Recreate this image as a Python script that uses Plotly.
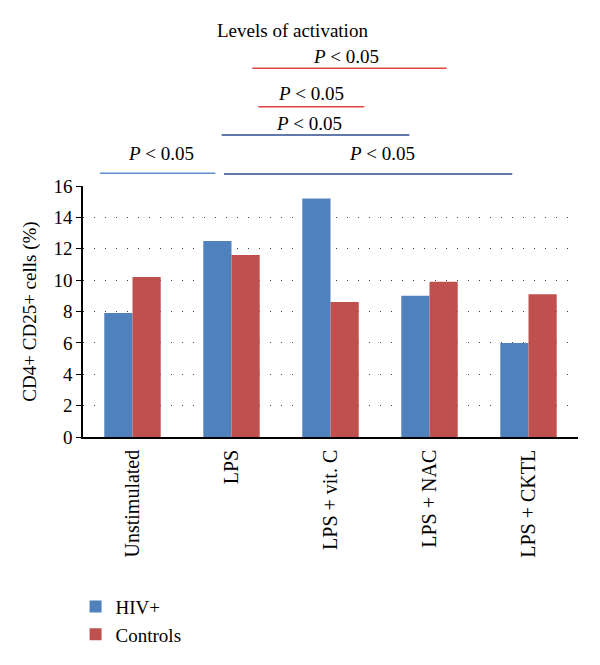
import plotly.graph_objects as go

categories = ["Unstimulated", "LPS", "LPS + vit. C", "LPS + NAC", "LPS + CKTL"]
hiv_values = [7.9, 12.5, 15.2, 9.0, 6.0]
control_values = [10.2, 11.6, 8.6, 9.9, 9.1]
y_ticks = [0, 2, 4, 6, 8, 10, 12, 14, 16]

# significance brackets: (x0, x1 in category units, y in paper, colour, label x, label y)
brackets = [
    (1.21, 3.174, 1.469, "#E0453F", 2.155, 1.515),
    (1.271, 2.341, 1.316, "#E0453F", 1.80, 1.369),
    (0.901, 2.796, 1.203, "#2E4E8C", 1.783, 1.25),
    (-0.328, 0.836, 1.051, "#5B8FD0", 0.286, 1.13),
    (0.924, 3.836, 1.048, "#2E4E8C", 2.517, 1.13),
]
p_label = "<i>P</i> &lt; 0.05"

FONT = "Liberation Serif, Times New Roman, serif"

fig = go.Figure()
fig.add_trace(go.Bar(x=list(range(len(categories))), y=hiv_values, name="HIV+",
                     marker=dict(color="#4F81BD", line=dict(width=0))))
fig.add_trace(go.Bar(x=list(range(len(categories))), y=control_values, name="Controls",
                     marker=dict(color="#C0504D", line=dict(width=0))))

shapes = []
annotations = []
for x0, x1, y, col, tx, ty in brackets:
    shapes.append(dict(type="line", xref="x", yref="paper", x0=x0, x1=x1, y0=y, y1=y,
                       line=dict(color=col, width=1.5)))
    annotations.append(dict(xref="x", yref="paper", x=tx, y=ty, text=p_label, showarrow=False,
                            font=dict(family=FONT, size=19, color="black"),
                            xanchor="center", yanchor="middle"))
annotations.append(dict(xref="x", yref="paper", x=1.62, y=1.62, text="Levels of activation",
                        showarrow=False, font=dict(family=FONT, size=19, color="black"),
                        xanchor="center", yanchor="middle"))

# page body has an 8px default margin, so the figure is drawn 8px in from the top-left
fig.update_layout(
    width=592, height=657,
    margin=dict(l=75, r=22, t=178, b=228, autoexpand=False),
    paper_bgcolor="white", plot_bgcolor="white",
    barmode="group", bargap=0.43, bargroupgap=0,
    font=dict(family=FONT, size=19, color="black"),
    shapes=shapes, annotations=annotations,
    legend=dict(x=-0.015, y=-0.60, xanchor="left", yanchor="top",
                font=dict(family=FONT, size=19), tracegroupgap=0, bgcolor="rgba(0,0,0,0)"),
    showlegend=True,
)
fig.update_xaxes(
    tickmode="array", tickvals=list(range(len(categories))), ticktext=categories,
    range=[-0.5, len(categories) - 0.5], tickangle=-90, automargin=False,
    showline=True, linecolor="black", linewidth=1.5, ticks="", showgrid=False,
    zeroline=False, tickfont=dict(family=FONT, size=20), ticklabelstandoff=3,
)
fig.update_yaxes(
    range=[0, 16], tickvals=y_ticks, showline=True, linecolor="black", linewidth=1.5,
    ticks="outside", ticklen=5, tickcolor="black", zeroline=False, automargin=False,
    showgrid=True, gridcolor="#444444", gridwidth=1, griddash="1px,10px",
    title=dict(text="CD4+ CD25+ cells (%)", font=dict(family=FONT, size=19), standoff=12),
    tickfont=dict(family=FONT, size=19),
)

fig.write_html("out.html")
